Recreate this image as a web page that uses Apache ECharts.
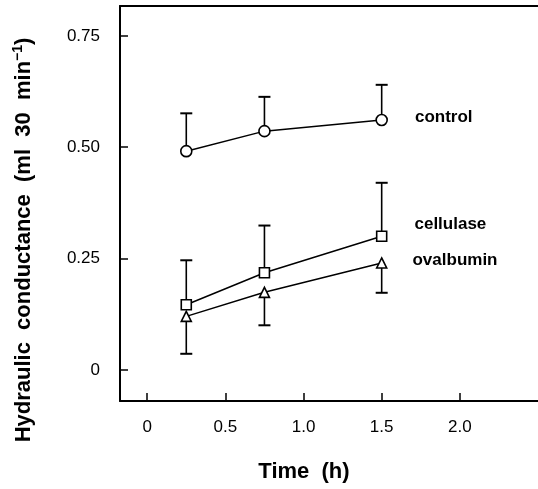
<!DOCTYPE html>
<html><head><meta charset="utf-8">
<script src="https://cdn.jsdelivr.net/npm/echarts@6/dist/echarts.min.js"></script>
<style>html,body{margin:0;padding:0;background:#fff}#c{width:538px;height:489px}</style>
</head><body><div id="c"></div>
<script>
const timeValues = [0.25, 0.75, 1.5];
const controlMean = [0.491, 0.536, 0.561];
const controlUpper = [0.576, 0.613, 0.640];
const cellulaseMean = [0.146, 0.218, 0.300];
const cellulaseUpper = [0.246, 0.324, 0.420];
const ovalbuminMean = [0.120, 0.174, 0.240];
const ovalbuminLower = [0.036, 0.100, 0.173];
const seriesNames = ['control', 'cellulase', 'ovalbumin'];
const xTickValues = [0, 0.5, 1, 1.5, 2];
const xTickLabels = ['0', '0.5', '1.0', '1.5', '2.0'];
const yTickValues = [0, 0.25, 0.5, 0.75];
const yTickLabels = ['0', '0.25', '0.50', '0.75'];

const FONT = '"Liberation Sans", Arial, Helvetica, sans-serif';

function lineData(means, labelOffset) {
  return timeValues.map((t, i) => {
    const item = { value: [t, means[i]] };
    if (i === timeValues.length - 1) {
      item.label = { show: true, position: 'right', offset: labelOffset };
    }
    return item;
  });
}
function errData(means, ends) {
  return timeValues.map((t, i) => [t, means[i], ends[i]]);
}
function errRender(params, api) {
  const x = api.value(0), v = api.value(1), e = api.value(2);
  const p0 = api.coord([x, v]), p1 = api.coord([x, e]);
  const half = 6;
  return { type: 'group', children: [
    { type: 'line', shape: { x1: p0[0], y1: p0[1], x2: p1[0], y2: p1[1] }, style: { stroke: '#000', lineWidth: 1.6 } },
    { type: 'line', shape: { x1: p1[0] - half, y1: p1[1], x2: p1[0] + half, y2: p1[1] }, style: { stroke: '#000', lineWidth: 2 } }
  ]};
}
function lineSeries(name, means, symbol, size, labelOffset) {
  return {
    type: 'line', name: name, data: lineData(means, labelOffset), z: 5,
    symbol: symbol, symbolSize: size, showAllSymbol: true,
    lineStyle: { color: '#000', width: 1.5 },
    itemStyle: { color: '#fff', borderColor: '#000', borderWidth: 1.6 },
    label: { show: false, formatter: name, color: '#000', fontFamily: FONT, fontSize: 17, fontWeight: 'bold' },
    animation: false
  };
}
function errSeries(means, ends) {
  return { type: 'custom', data: errData(means, ends), renderItem: errRender, z: 2, animation: false, silent: true };
}

const chart = echarts.init(document.getElementById('c'), null, { renderer: 'canvas' });
chart.setOption({
  animation: false,
  backgroundColor: '#fff',
  grid: { left: 120, top: 6, width: 446, height: 395, show: false },
  xAxis: [{
    type: 'value', min: -0.174, max: 2.5,
    name: 'Time  (h)', nameLocation: 'middle', nameGap: 60,
    nameTextStyle: { fontFamily: FONT, fontSize: 22, fontWeight: 'bold', color: '#000', padding: [0, 0, 0, -50] },
    axisLine: { show: true, onZero: false, lineStyle: { color: '#000', width: 2 } },
    axisTick: { show: true, inside: true, length: 8, customValues: xTickValues, lineStyle: { color: '#000', width: 1.5 } },
    axisLabel: { customValues: xTickValues, margin: 18, color: '#000', fontFamily: FONT, fontSize: 17,
      formatter: v => xTickLabels[xTickValues.findIndex(t => Math.abs(t - v) < 1e-9)] },
    splitLine: { show: false }
  }, {
    type: 'value', min: -0.174, max: 2.5, position: 'top',
    axisLine: { show: true, onZero: false, lineStyle: { color: '#000', width: 2 } },
    axisTick: { show: false }, axisLabel: { show: false }, splitLine: { show: false }
  }],
  yAxis: {
    type: 'value', min: -0.07, max: 0.817,
    axisLine: { show: true, onZero: false, lineStyle: { color: '#000', width: 2 } },
    axisTick: { show: true, inside: true, length: 8, customValues: yTickValues, lineStyle: { color: '#000', width: 1.5 } },
    axisLabel: { customValues: yTickValues, margin: 20, color: '#000', fontFamily: FONT, fontSize: 17,
      formatter: v => yTickLabels[yTickValues.findIndex(t => Math.abs(t - v) < 1e-9)] },
    splitLine: { show: false }
  },
  graphic: [{
    type: 'text', x: 24, y: 240, rotation: Math.PI / 2,
    style: {
      text: '{a|Hydraulic  conductance  (ml  30  min}{b|−1}{a|)}',
      align: 'center', verticalAlign: 'middle',
      rich: {
        a: { fontFamily: FONT, fontSize: 22, fontWeight: 'bold', fill: '#000' },
        b: { fontFamily: FONT, fontSize: 14, fontWeight: 'bold', fill: '#000', padding: [0, 0, 12, 0] }
      }
    }
  }],
  series: [
    errSeries(controlMean, controlUpper),
    errSeries(cellulaseMean, cellulaseUpper),
    errSeries(ovalbuminMean, ovalbuminLower),
    lineSeries(seriesNames[0], controlMean, 'circle', 11, [22, -3]),
    lineSeries(seriesNames[1], cellulaseMean, 'rect', 10, [22, -12]),
    lineSeries(seriesNames[2], ovalbuminMean, 'triangle', 10, [20, -3])
  ]
});
</script>
</body></html>
